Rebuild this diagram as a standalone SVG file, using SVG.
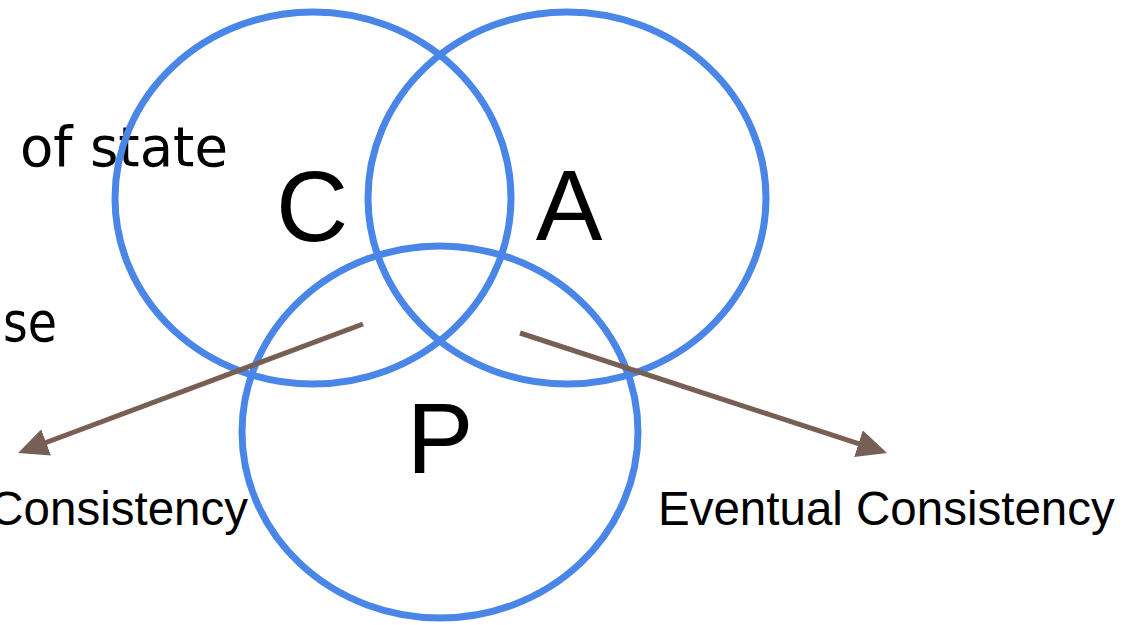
<svg xmlns="http://www.w3.org/2000/svg" width="1143" height="625" viewBox="0 0 1143 625">
<style>
.set{fill:none;stroke:#4a86e8;stroke-width:7}
.big{font-family:"Liberation Sans",Arial,sans-serif;font-size:100px;fill:#000;text-anchor:middle}
.lbl{font-family:"Liberation Sans",Arial,sans-serif;font-size:47.5px;fill:#000}
.bg{font-family:"DejaVu Sans","Noto Sans",sans-serif;font-size:55px;fill:#000}
.arr{stroke:#775f55;stroke-width:5;fill:none}
</style>
<defs>
<marker id="ah" markerUnits="userSpaceOnUse" markerWidth="30" markerHeight="28" refX="20" refY="14" orient="auto" viewBox="0 0 30 28">
<path d="M0,0 L30,14 L0,28 z" fill="#775f55"/>
</marker>
</defs>
<rect width="1143" height="625" fill="#fff"/>
<g id="background-text">
<text class="bg" x="20" y="166" textLength="208" lengthAdjust="spacingAndGlyphs">of state</text>
<text class="bg" x="3" y="341" textLength="54" lengthAdjust="spacingAndGlyphs">se</text>
</g>
<g id="node-C">
<ellipse class="set" cx="313" cy="198" rx="198" ry="186"/>
<text class="big" x="312" y="241">C</text>
</g>
<g id="node-A">
<ellipse class="set" cx="567" cy="198" rx="199" ry="186"/>
<text class="big" x="569" y="240">A</text>
</g>
<g id="node-P">
<ellipse class="set" cx="440" cy="432" rx="198" ry="186"/>
<text class="big" x="440" y="473">P</text>
</g>
<g id="connectors">
<line class="arr" x1="363" y1="324" x2="27.4" y2="449.5" marker-end="url(#ah)"/>
<line class="arr" x1="520" y1="333" x2="877.5" y2="449.9" marker-end="url(#ah)"/>
</g>
<g id="labels">
<text class="lbl" x="-10.7" y="525">Consistency</text>
<text class="lbl" x="658" y="525">Eventual Consistency</text>
</g>
</svg>
